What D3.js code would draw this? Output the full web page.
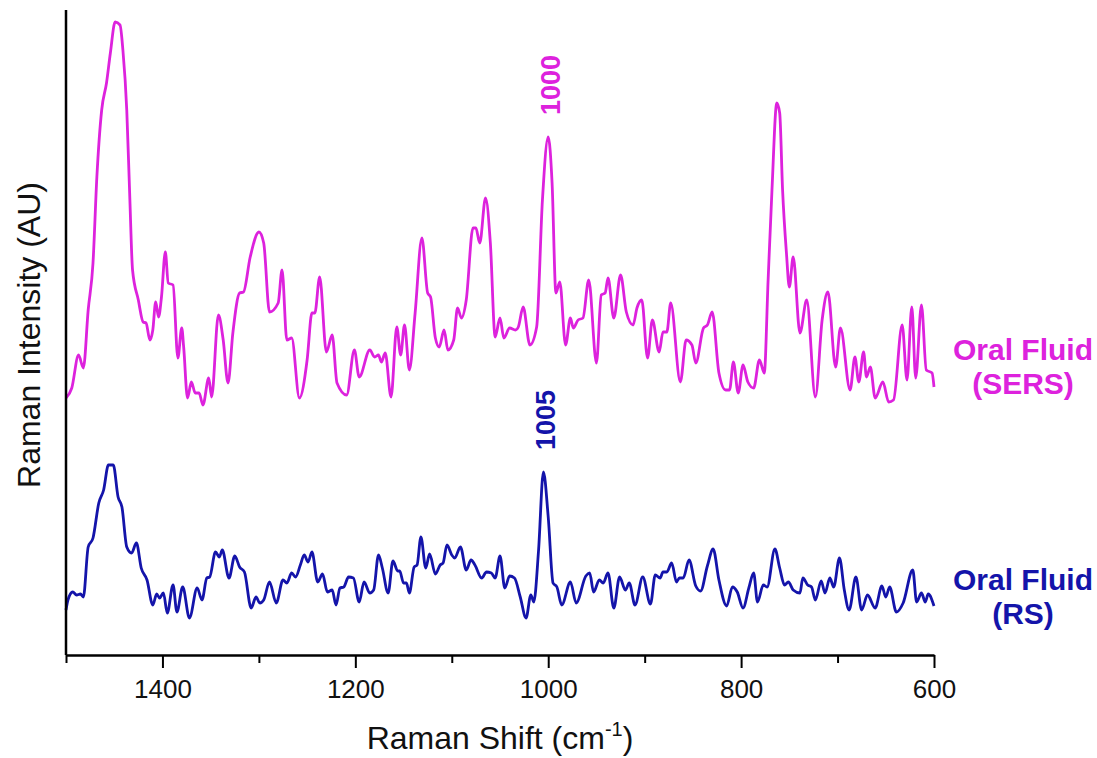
<!DOCTYPE html>
<html>
<head>
<meta charset="utf-8">
<script src="https://cdn.jsdelivr.net/npm/d3@7"></script>
<style>
  body { margin: 0; background: #fff; }
  svg text { font-family: Arial, "Liberation Sans", sans-serif; }
</style>
</head>
<body>
<div class="canvas"></div>
<script>
// Raman shift (cm-1) and intensity (AU)
const sersShift = [1500,1494,1487,1482,1477,1472,1468,1463,1458,1454,
  1449,1444,1441,1437,1434,1431,1425,1420,1417,1413,
  1410,1407,1404,1401,1397,1394,1389,1384,1380,1378,
  1374,1370,1366,1362,1358,1352,1349,1342,1337,1332,
  1327,1320,1316,1309,1300,1295,1289,1280,1276,1271,
  1266,1258,1250,1245,1242,1237,1230,1224,1219,1209,
  1201,1196,1185,1180,1176,1173,1169,1163,1157,1153,
  1149,1144,1138,1131,1125,1122,1117,1113,1108,1104,
  1098,1094,1090,1085,1078,1075,1071,1065,1060,1055,
  1050,1046,1040,1034,1031,1026,1019,1012,1006,1000,
  996,992,988,982,977,974,969,964,958,950,
  945,941,938,932,925,919,912,908,903,897,
  892,885,881,877,873,863,857,851,847,839,
  835,830,823,816,812,808,803,798,793,787,
  781,776,772,768,763,760,757,753,750,746,
  739,732,723,716,710,702,697,687,682,678,
  673,670,666,661,653,647,642,633,628,623,
  619,613,608,602,600];
const sersIntensity = [257,267,300,287,345,392,478,545,572,602,
  633,630,605,545,462,385,355,333,332,315,
  325,353,338,358,403,372,370,297,327,308,
  257,273,262,262,250,277,258,340,315,272,
  322,362,363,398,423,412,343,352,385,315,
  317,257,295,342,342,378,303,320,272,260,
  305,278,305,298,300,293,302,258,328,300,
  330,285,342,417,362,358,317,308,325,305,
  315,347,337,355,427,427,412,457,412,318,
  337,317,327,325,328,348,310,328,455,518,
  472,362,373,310,337,327,335,337,375,292,
  360,362,377,337,380,343,330,347,355,297,
  335,303,323,323,352,273,315,310,292,327,
  330,343,282,265,265,293,262,290,273,267,
  295,282,375,465,552,542,465,402,368,398,
  322,355,258,335,363,288,327,265,298,273,
  303,278,288,257,273,253,255,330,275,348,
  277,350,285,282,268];

const rsShift = [1500,1498,1493,1489,1485,1482,1477,1472,1466,1461,
  1456,1451,1446,1442,1437,1432,1427,1422,1416,1410,
  1406,1403,1399,1395,1389,1385,1379,1372,1364,1359,
  1354,1351,1345,1341,1338,1331,1325,1320,1315,1308,
  1303,1299,1295,1289,1282,1275,1271,1266,1262,1257,
  1253,1249,1245,1239,1234,1229,1224,1220,1216,1212,
  1207,1202,1196,1191,1185,1181,1176,1172,1166,1161,
  1156,1154,1150,1147,1144,1139,1136,1132,1127,1123,
  1117,1112,1109,1105,1100,1097,1091,1085,1080,1076,
  1069,1064,1059,1055,1050,1045,1040,1035,1029,1023,
  1018,1015,1010,1005,1000,995,991,986,977,971,
  961,957,953,947,943,938,932,926,920,916,
  910,902,894,889,884,881,877,872,867,864,
  860,854,847,842,835,829,823,815,809,804,
  798,792,787,783,777,773,765,760,755,751,
  746,739,736,731,727,723,717,713,708,704,
  698,693,688,681,675,669,661,654,650,646,
  639,632,622,618,613,609,606,600];
const rsIntensity = [45,55,63,60,61,58,108,117,152,165,
  190,190,158,148,108,102,112,87,75,50,
  61,57,62,42,70,43,68,37,67,55,
  77,78,103,98,105,77,99,88,83,47,
  58,52,55,73,52,75,72,82,78,90,
  100,93,103,73,81,63,65,50,67,68,
  78,77,53,73,62,65,100,87,62,94,
  84,84,72,72,62,88,90,118,87,101,
  81,90,92,110,100,97,108,85,95,90,
  77,83,82,77,99,67,79,77,58,37,
  60,53,105,183,138,72,68,50,73,52,
  79,82,63,75,72,82,47,78,65,72,
  50,78,51,80,77,83,83,92,73,77,
  77,95,69,64,89,106,75,49,68,63,
  47,67,82,53,70,68,106,87,70,73,
  65,62,77,70,68,55,74,62,77,68,
  97,65,45,78,45,60,47,69,58,68,
  43,52,85,53,62,53,61,49];

const majorTicks = [1400, 1200, 1000, 800, 600];
const minorTicks = [1500, 1300, 1100, 900, 700];

const peaks = [
  { label: '1000', shift: 1000, value: 518, colour: '#dd22dd' },
  { label: '1005', shift: 1005, value: 183, colour: '#1414aa' }
];

const seriesLabels = [
  { lines: ['Oral Fluid', '(SERS)'], colour: '#dd22dd', y: 360 },
  { lines: ['Oral Fluid', '(RS)'], colour: '#1414aa', y: 590 }
];

const dims = { width: 1097, height: 758 };
const margin = { left: 66, top: 10, right: 163, bottom: 103 };
const plotW = dims.width - margin.left - margin.right;
const plotH = dims.height - margin.top - margin.bottom;

const svg = d3.select('.canvas')
  .append('svg')
  .attr('width', dims.width)
  .attr('height', dims.height);

const graph = svg.append('g')
  .attr('transform', `translate(${margin.left}, ${margin.top})`);

const x = d3.scaleLinear().domain([1500, 600]).range([0, plotW]);
const y = d3.scaleLinear().domain([0, 645]).range([plotH, 0]);

const line = d3.line()
  .x(d => x(d[0]))
  .y(d => y(d[1]))
  .curve(d3.curveMonotoneX);

// spectra
graph.append('path')
  .datum(d3.zip(sersShift, sersIntensity))
  .attr('fill', 'none')
  .attr('stroke', '#dd22dd')
  .attr('stroke-width', 2.8)
  .attr('stroke-linejoin', 'round')
  .attr('d', line);

graph.append('path')
  .datum(d3.zip(rsShift, rsIntensity))
  .attr('fill', 'none')
  .attr('stroke', '#1414aa')
  .attr('stroke-width', 2.8)
  .attr('stroke-linejoin', 'round')
  .attr('d', line);

// x axis: major ticks with labels, minor ticks without
const xAxis = graph.append('g')
  .attr('transform', `translate(0, ${plotH})`)
  .call(d3.axisBottom(x)
    .tickValues(majorTicks)
    .tickFormat(d3.format('d'))
    .tickSize(13)
    .tickSizeOuter(0)
    .tickPadding(12));
xAxis.select('.domain').attr('stroke-width', 2.5).attr('stroke', '#000');
xAxis.selectAll('.tick line').attr('stroke-width', 2);
xAxis.selectAll('.tick text')
  .attr('font-size', 26)
  .attr('fill', '#111')
  .style('font-family', 'Arial, "Liberation Sans", sans-serif');

const xMinor = graph.append('g')
  .attr('transform', `translate(0, ${plotH})`)
  .call(d3.axisBottom(x).tickValues(minorTicks).tickSize(8).tickFormat(''));
xMinor.select('.domain').remove();
xMinor.selectAll('.tick line').attr('stroke-width', 2);

// y axis spine only
graph.append('line')
  .attr('x1', 0).attr('x2', 0)
  .attr('y1', 0).attr('y2', plotH)
  .attr('stroke', '#000')
  .attr('stroke-width', 2.5);

// axis titles
const xTitle = svg.append('text')
  .attr('x', margin.left + plotW / 2)
  .attr('y', 749)
  .attr('text-anchor', 'middle')
  .attr('font-size', 32)
  .attr('fill', '#111');
xTitle.append('tspan').text('Raman Shift (cm');
xTitle.append('tspan').attr('font-size', 20).attr('dy', -13).text('-1');
xTitle.append('tspan').attr('dy', 13).text(')');

svg.append('text')
  .attr('transform', `translate(40, ${margin.top + 325}) rotate(-90)`)
  .attr('text-anchor', 'middle')
  .attr('font-size', 32)
  .attr('fill', '#111')
  .text('Raman Intensity (AU)');

// peak annotations
graph.selectAll('.peak')
  .data(peaks)
  .enter()
  .append('text')
    .attr('class', 'peak')
    .attr('transform', d => `translate(${x(d.shift) + 12}, ${y(d.value) - 22}) rotate(-90)`)
    .attr('font-size', 27)
    .attr('font-weight', 'bold')
    .attr('fill', d => d.colour)
    .text(d => d.label);

// series labels
seriesLabels.forEach(s => {
  const t = svg.append('text')
    .attr('text-anchor', 'middle')
    .attr('font-size', 30)
    .attr('font-weight', 'bold')
    .attr('fill', s.colour);
  s.lines.forEach((l, i) => {
    t.append('tspan')
      .attr('x', 1023)
      .attr('y', s.y + i * 34)
      .text(l);
  });
});
</script>
</body>
</html>
